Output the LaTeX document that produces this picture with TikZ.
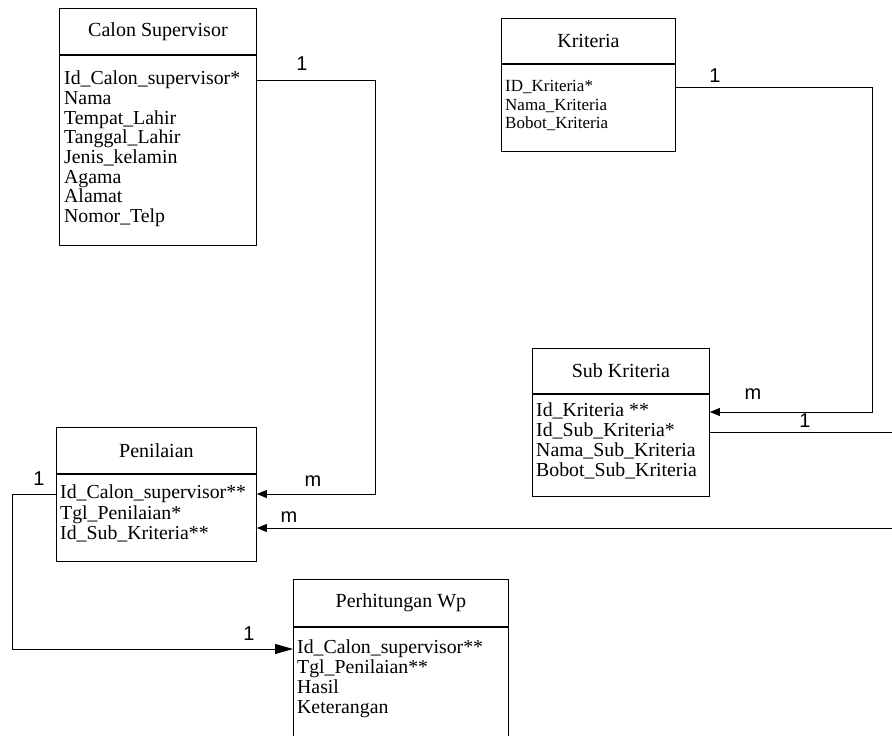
\documentclass[tikz,border=0pt]{standalone}
\usepackage{fontspec}
\setmainfont{Liberation Serif}
\newfontfamily\cardfont{Liberation Sans}
\usetikzlibrary{shapes,arrows.meta}

\tikzset{
  entity/.style={draw, line width=0.9pt, anchor=north west, inner sep=0pt, font=\fontsize{20}{22}\selectfont},
  attr/.style={anchor=west, inner sep=0pt, text height=13.5pt, text depth=4pt, font=\fontsize{19.8}{20}\selectfont},
  smallattr/.style={anchor=west, inner sep=0pt, text height=12pt, text depth=3.5pt, font=\fontsize{17}{18}\selectfont},
  card/.style={inner sep=0pt, font=\cardfont\fontsize{20}{20}\selectfont},
  rel/.style={line width=0.9pt},
  relarrow/.style={rel, -{Triangle[length=10pt,width=8pt]}},
}

\begin{document}
\begin{tikzpicture}[x=1pt,y=1pt,yscale=-1]
    \useasboundingbox (0,0) rectangle (892,736);
    \clip (0,0) rectangle (892,736);

    %Shape: Rectangle -- Calon Supervisor
    \node[entity, minimum width=197, minimum height=46] (cshead) at (59,8) {Calon Supervisor};
    \node[entity, minimum width=197, minimum height=190] (csbody) at (cshead.south west) {};
    \foreach \txt [count=\i] in {Id\_Calon\_supervisor*, Nama, Tempat\_Lahir, Tanggal\_Lahir, Jenis\_kelamin, Agama, Alamat, Nomor\_Telp}
        \node[attr] (cs\i) at (64,60.3+19.7*\i) {\txt};

    %Shape: Rectangle -- Kriteria
    \node[entity, minimum width=174, minimum height=45] (krhead) at (501,18) {Kriteria};
    \node[entity, minimum width=174, minimum height=87] (krbody) at (krhead.south west) {};
    \foreach \txt [count=\i] in {ID\_Kriteria*, Nama\_Kriteria, Bobot\_Kriteria}
        \node[smallattr] (kr\i) at (505,69+18.5*\i) {\txt};

    %Shape: Rectangle -- Sub Kriteria
    \node[entity, minimum width=177, minimum height=45] (sbhead) at (532,348) {Sub Kriteria};
    \node[entity, minimum width=177, minimum height=102] (sbbody) at (sbhead.south west) {};
    \foreach \txt [count=\i] in {Id\_Kriteria **, Id\_Sub\_Kriteria*, Nama\_Sub\_Kriteria, Bobot\_Sub\_Kriteria}
        \node[attr] (sb\i) at (536,392+20*\i) {\txt};

    %Shape: Rectangle -- Penilaian
    \node[entity, minimum width=200, minimum height=46] (pnhead) at (56,427) {Penilaian};
    \node[entity, minimum width=200, minimum height=87] (pnbody) at (pnhead.south west) {};
    \foreach \txt [count=\i] in {Id\_Calon\_supervisor**, Tgl\_Penilaian*, Id\_Sub\_Kriteria**}
        \node[attr] (pn\i) at (60,473.5+20.5*\i) {\txt};

    %Shape: Rectangle -- Perhitungan Wp
    \node[entity, minimum width=215, minimum height=47] (pwhead) at (293,579) {Perhitungan Wp};
    \node[entity, minimum width=215, minimum height=130] (pwbody) at (pwhead.south west) {};
    \foreach \txt [count=\i] in {Id\_Calon\_supervisor**, Tgl\_Penilaian**, Hasil, Keterangan}
        \node[attr] (pw\i) at (297,629+20*\i) {\txt};

    %Straight Lines
    \coordinate (edge1) at (900,433);
    \coordinate (edge2) at (900,528);
    \draw[relarrow] (csbody.east |- cs1) -- ++(119,0) |- (pnbody.east |- pn1);
    \draw[relarrow] (krbody.east |- kr1) -- ++(197,0) |- (sbbody.east |- sb1);
    \draw[rel] (sbbody.east |- sb2) -- (edge1 |- sb2);
    \draw[relarrow] (edge2) -- (pnbody.east |- edge2);
    \draw[rel, -{Triangle[length=18pt,width=10pt]}] (pnbody.west |- pn1) -- ++(-44,0) |- (pwbody.west |- pw1);

    % Text Node
    \node[card] (c1) at (302,64) {1};
    % Text Node
    \node[card] (m1) at (313,481) {m};
    % Text Node
    \node[card] (c2) at (715,76) {1};
    % Text Node
    \node[card] (m2) at (753,394) {m};
    % Text Node
    \node[card] (c3) at (805,421) {1};
    % Text Node
    \node[card] (m3) at (289,517) {m};
    % Text Node
    \node[card] (c4) at (39,479) {1};
    % Text Node
    \node[card] (c5) at (249,634) {1};

\end{tikzpicture}
\end{document}
